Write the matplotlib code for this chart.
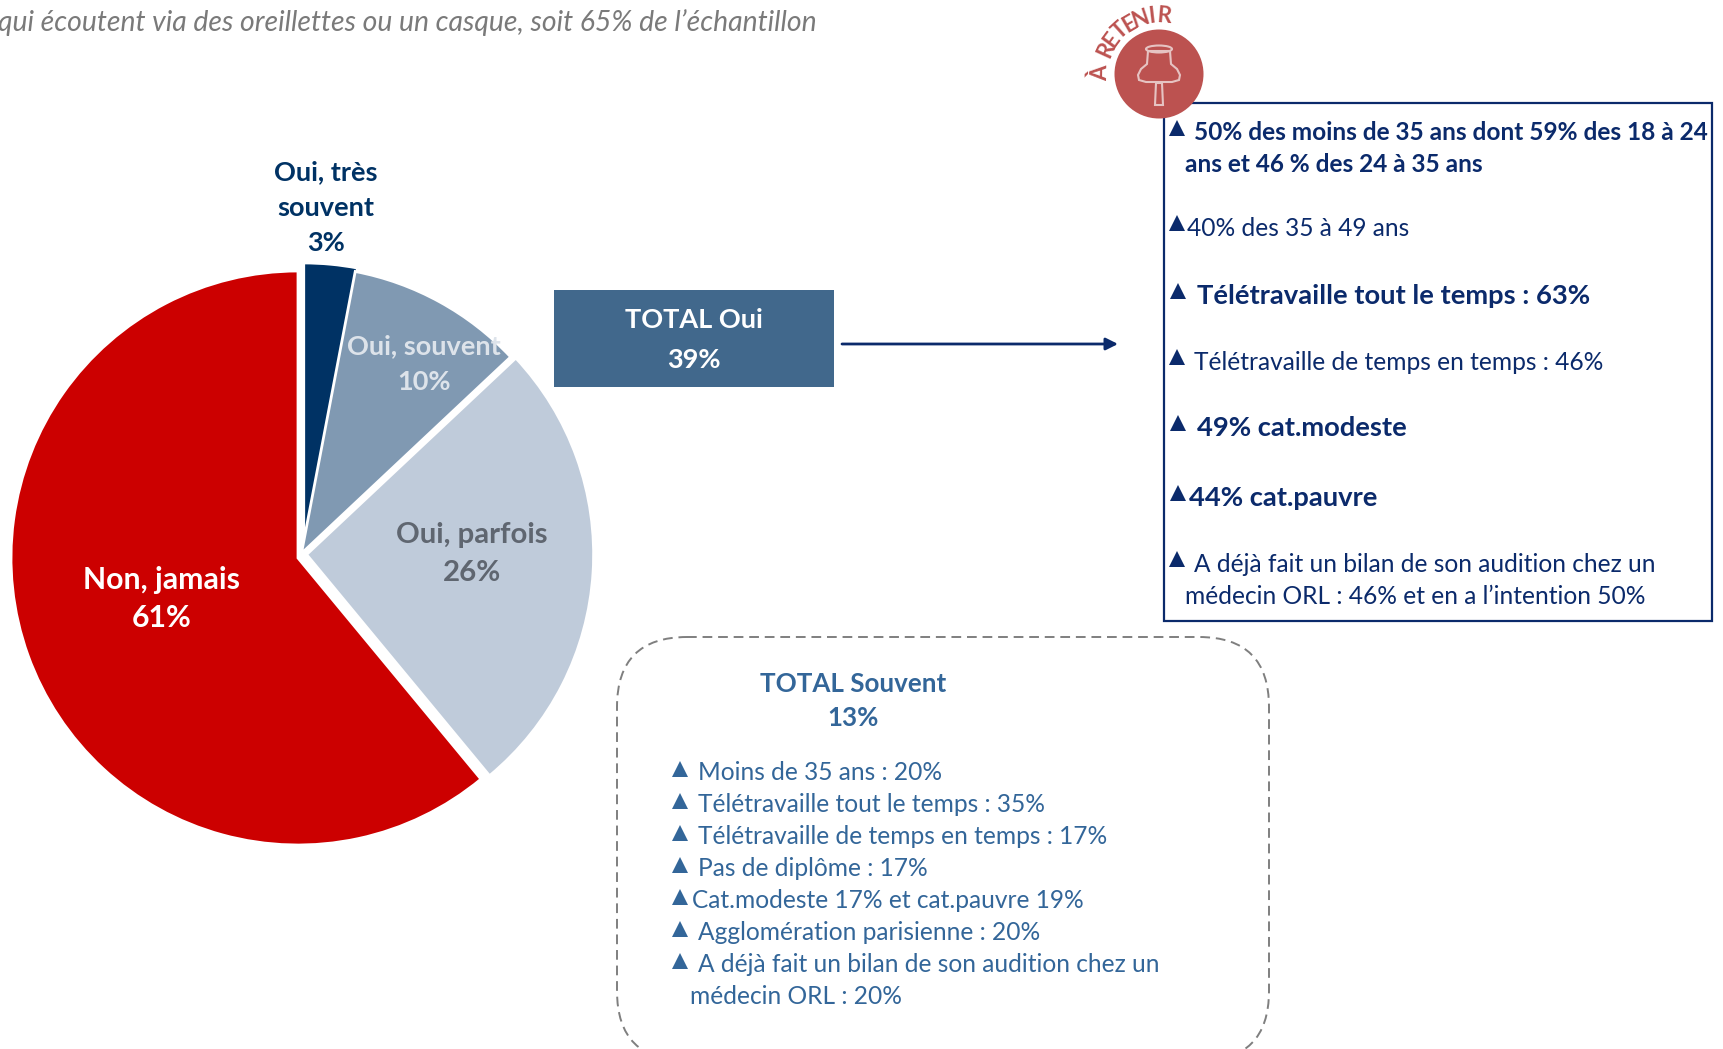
import numpy as np
import matplotlib
matplotlib.use('Agg')
import matplotlib.pyplot as plt
from matplotlib.patches import Rectangle, FancyBboxPatch, Ellipse, Polygon

plt.rcParams['font.family'] = ['Lato', 'DejaVu Sans']

W, H = 1724, 1049

# pie data
pie_labels = ['Oui, très\nsouvent\n3%', 'Oui, souvent\n10%', 'Oui, parfois\n26%', 'Non, jamais\n61%']
pie_values = [3, 10, 26, 61]
pie_colors = ['#003264', '#8099B2', '#BFCBDA', '#CC0000']
label_colors = ['#003264', '#DDE3EA', '#5F6670', '#FFFFFF']
label_sizes = [19.5, 19.5, 21.2, 21.8]

subtitle = 'qui écoutent via des oreillettes ou un casque, soit 65% de l’échantillon'
total_oui = 'TOTAL Oui\n39%'
total_souvent = 'TOTAL Souvent\n13%'
retenir = 'À RETENIR'

# right box: text, bold, size
right_lines = ['50% des moins de 35 ans dont 59% des 18 à 24',
               'ans et 46 % des 24 à 35 ans',
               '40% des 35 à 49 ans',
               'Télétravaille tout le temps : 63%',
               'Télétravaille de temps en temps : 46%',
               '49% cat.modeste',
               '44% cat.pauvre',
               'A déjà fait un bilan de son audition chez un',
               'médecin ORL : 46% et en a l’intention 50%']
right_bold = [True, True, False, True, False, True, True, False, False]
right_big = [False, False, False, True, False, True, True, False, False]
right_bullet = [True, False, True, True, True, True, True, True, False]

# dashed box
souvent_lines = ['Moins de 35 ans : 20%',
                 'Télétravaille tout le temps : 35%',
                 'Télétravaille de temps en temps : 17%',
                 'Pas de diplôme : 17%',
                 'Cat.modeste 17% et cat.pauvre 19%',
                 'Agglomération parisienne : 20%',
                 'A déjà fait un bilan de son audition chez un',
                 'médecin ORL : 20%']
souvent_bullet = [True, True, True, True, True, True, True, False]

fig = plt.figure(figsize=(W / 100, H / 100), dpi=100, facecolor='white')

# pie, placed in its own axes around the centre of the red slice
cx, cy, R, half = 298, 558, 287, 320
ax_pie = fig.add_axes([(cx - half) / W, 1 - (cy + half) / H, 2 * half / W, 2 * half / H])
wedges, _ = ax_pie.pie(pie_values, colors=pie_colors, startangle=90, counterclock=False, radius=1,
                       wedgeprops={'edgecolor': 'white', 'linewidth': 2})
# the slices are pulled out by hand in the source, not along their bisector
wedges[0].set_center((0.02, 0.028))
wedges[1].set_center((0.012, 0.016))
wedges[2].set_center((0.03, 0.012))
ax_pie.set_xlim(-half / R, half / R)
ax_pie.set_ylim(-half / R, half / R)
ax_pie.set_aspect('equal')
ax_pie.axis('off')

# everything else in pixel coordinates
ax = fig.add_axes([0, 0, 1, 1], facecolor='none')
ax.set_xlim(0, W)
ax.set_ylim(H, 0)
ax.axis('off')

# pie labels
pie_label_x = [326, 424, 472, 162]
pie_label_y = [208, 364, 554, 599]
pie_label_gap = [1.57, 1.6, 1.54, 1.45]
for i in range(4):
    ax.text(pie_label_x[i], pie_label_y[i], pie_labels[i], color=label_colors[i], fontsize=label_sizes[i],
            fontweight='bold', ha='center', va='center', linespacing=pie_label_gap[i])

ax.text(817, 23, subtitle, color='#7A7A7A', fontsize=20.4, style='italic', ha='right', va='center')

# total oui + arrow
ax.add_patch(Rectangle((554, 290), 280, 97, facecolor='#41688C', edgecolor='none'))
ax.text(694, 340, total_oui, color='white', fontsize=19.5, fontweight='bold', ha='center',
        va='center', linespacing=1.8)
ax.annotate('', xy=(1118, 344), xytext=(842, 344),
            arrowprops=dict(arrowstyle='-|>', color='#0B2A6B', lw=2, mutation_scale=18,
                            shrinkA=0, shrinkB=0))

# right box
navy = '#0B2A6B'
ax.add_patch(Rectangle((1164, 103), 548, 518, facecolor='white', edgecolor=navy, lw=1.6))
right_x = [1194, 1185, 1187, 1197, 1194, 1197, 1189, 1194, 1185]
right_y = [132.5, 164.5, 228, 296, 362, 428, 498, 564, 596]
bullet_x = [1177, 0, 1177, 1178, 1177, 1178, 1178, 1177, 0]
for i in range(len(right_lines)):
    size = 19.7 if right_big[i] else 17.65
    if right_bold[i] and not right_big[i]:
        size = 17.6
    ax.text(right_x[i], right_y[i], right_lines[i], color=navy, fontsize=size,
            fontweight='bold' if right_bold[i] else 'normal', ha='left', va='center')
    if right_bullet[i]:
        ax.plot(bullet_x[i], right_y[i] - 5, marker='^', ms=12, color=navy, mew=0)

# dashed box, filled so agg does not clip the curve at the bottom of the canvas
ax.add_patch(FancyBboxPatch((617 + 70, 637 + 70), 652 - 140, 424 - 140,
                            boxstyle='round,pad=70,rounding_size=70', facecolor='white',
                            edgecolor='#7F7F7F', lw=1.4, linestyle=(0, (5, 3))))
blue = '#336699'
ax.text(853, 701, total_souvent, color=blue, fontsize=18.7, fontweight='bold', ha='center',
        va='center', linespacing=1.53)
souvent_x = [698, 698, 698, 698, 692, 698, 698, 690]
souvent_y = [773, 805, 837, 869, 901, 933, 965, 997]
for i in range(len(souvent_lines)):
    ax.text(souvent_x[i], souvent_y[i], souvent_lines[i], color=blue, fontsize=17.65, ha='left', va='center')
    if souvent_bullet[i]:
        ax.plot(680, souvent_y[i] - 4, marker='^', ms=12, color=blue, mew=0)

# pin badge
red_badge = '#BC5250'
pin = '#E6C3C2'
ax.add_patch(Ellipse((1159, 74), 89, 89, facecolor=red_badge, edgecolor='none', zorder=4))
ax.add_patch(Ellipse((1159, 49), 26, 7, facecolor='none', edgecolor=pin, lw=1.5, zorder=5))
ax.add_patch(Polygon([(1148, 51), (1147, 64), (1141, 69), (1138, 75), (1139, 80), (1146, 82), (1172, 82),
                      (1179, 80), (1180, 75), (1177, 69), (1171, 64), (1170, 51)], closed=True,
                     facecolor='none', edgecolor=pin, lw=1.5, zorder=5))
ax.add_patch(Polygon([(1156, 83), (1155, 105), (1163, 105), (1162, 83)], closed=True,
                     facecolor='none', edgecolor=pin, lw=1.5, zorder=5))

# curved label, one letter at a time
angles = np.linspace(179, 85, len(retenir))
for ch, a in zip(retenir, angles):
    t = np.radians(a)
    ax.text(1159 + 58 * np.cos(t), 74 - 58 * np.sin(t), ch, color=red_badge, fontsize=16,
            fontweight='bold', ha='center', va='center', rotation=a - 90)

fig.savefig('out.png', dpi=100)
